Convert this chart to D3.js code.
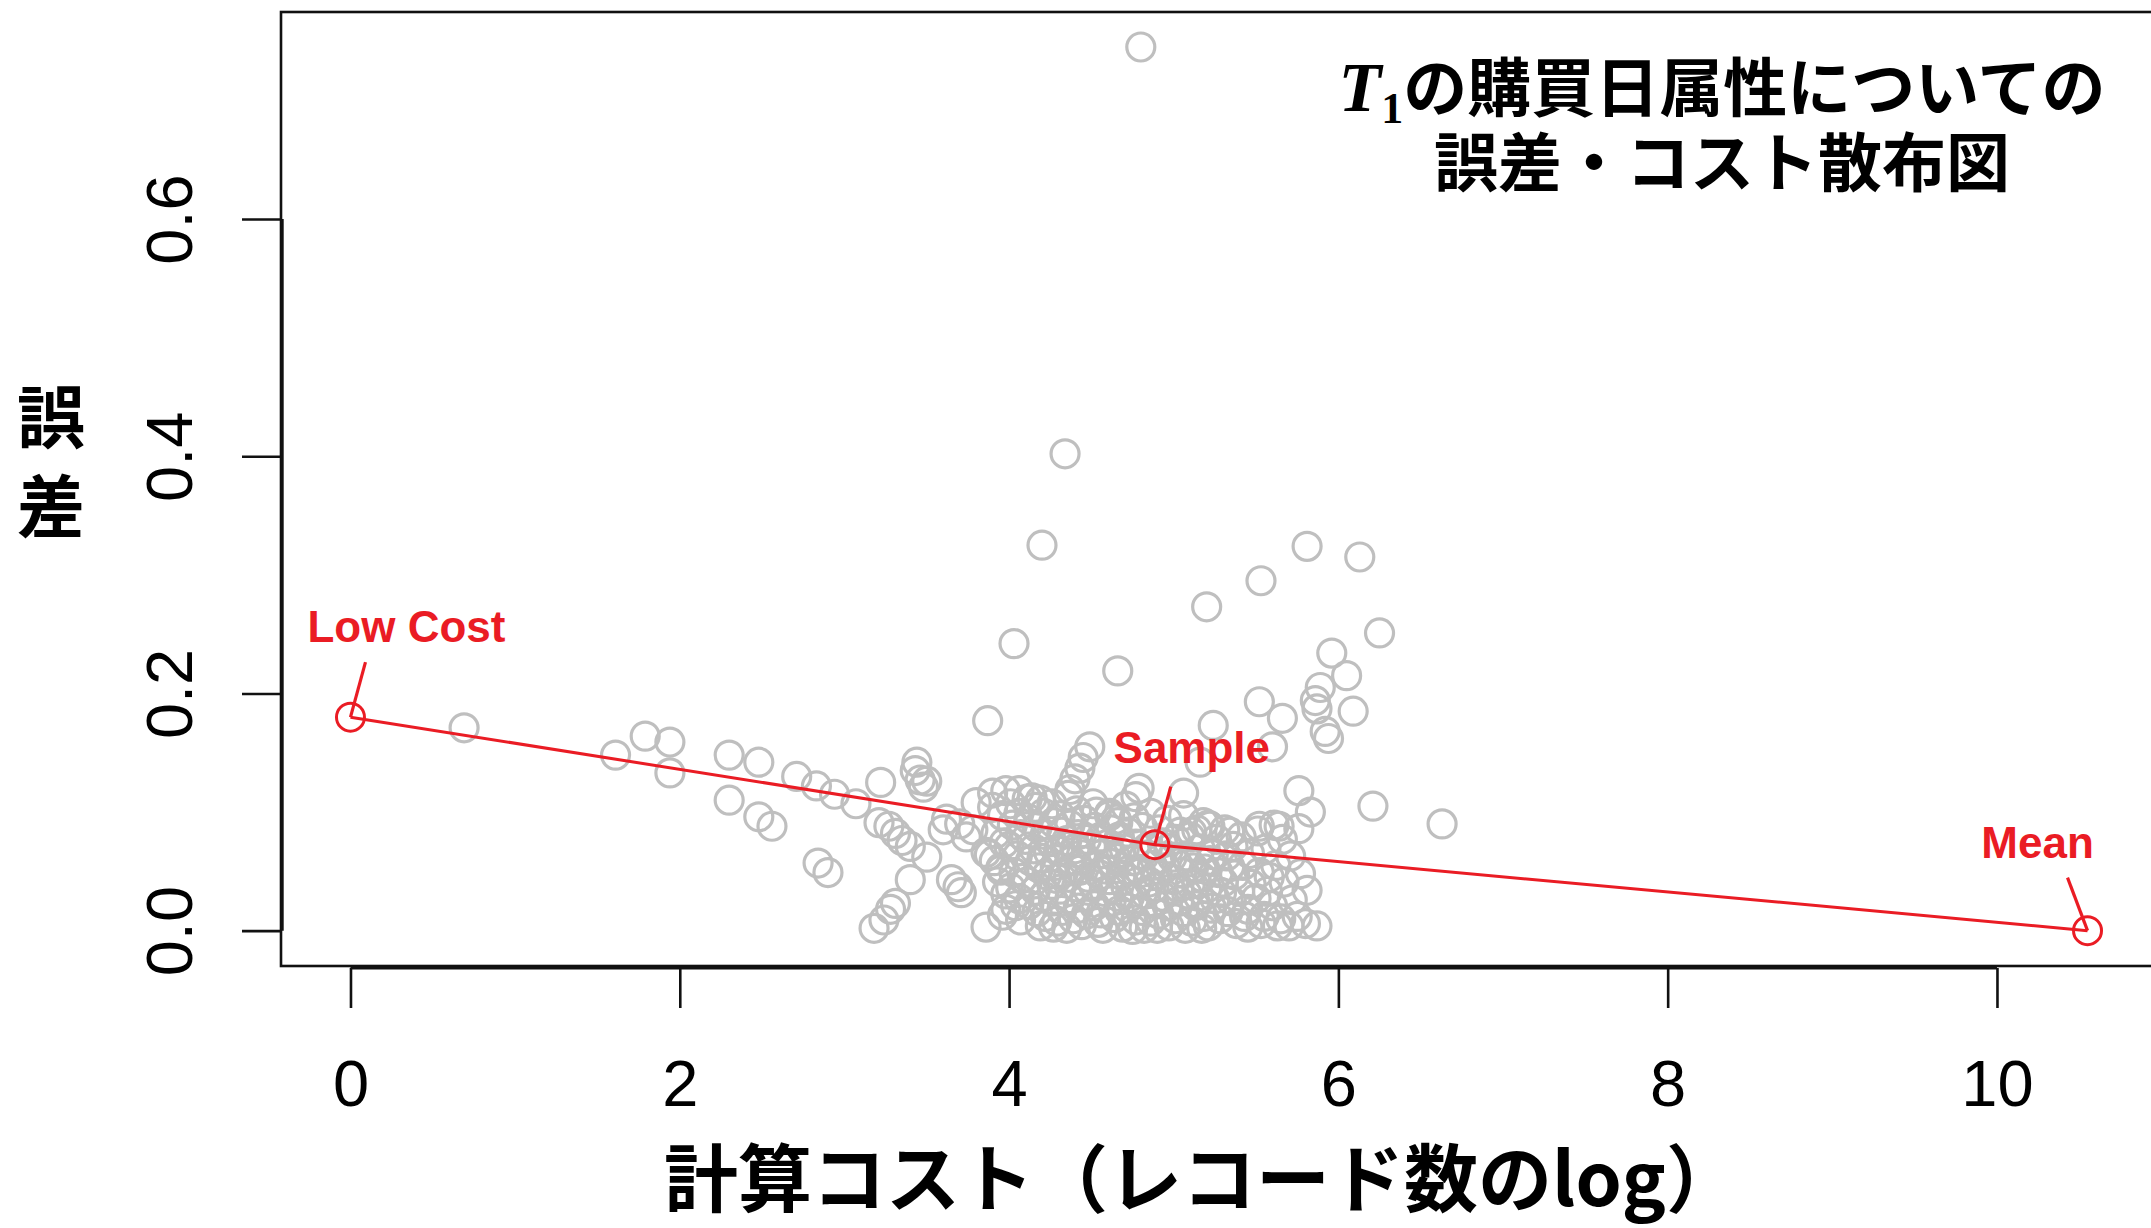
<!DOCTYPE html>
<html>
<head>
<meta charset="utf-8">
<script src="https://cdn.jsdelivr.net/npm/d3@7/dist/d3.min.js"></script>
<style>
  body { margin: 0; background: #fff; }
  svg { display: block; }
  .jp { font-family: "Noto Sans CJK JP", "Noto Sans", sans-serif; font-weight: 700; }
  .num { font-family: "Liberation Sans", Arial, sans-serif; }
</style>
</head>
<body>
<svg id="chart" width="2151" height="1228"></svg>
<script>
// plot limits (R style, data range + 4%)
var xLim = [-0.422, 10.972];
var yLim = [-0.0298, 0.7745];
var xTicks = [0, 2, 4, 6, 8, 10];
var yTicks = [0, 0.2, 0.4, 0.6];

// scattered points above the main cloud
var upperPts = [
  [4.80,0.745],[4.34,0.402],[4.20,0.325],[4.03,0.242],[4.66,0.219],[3.87,0.177],
  [5.20,0.273],[5.53,0.295],[5.81,0.324],[6.13,0.315],[6.25,0.251],[5.96,0.234],
  [6.05,0.215],[5.89,0.205],[5.52,0.193],[5.86,0.194],[5.87,0.187],[6.09,0.185],
  [5.66,0.179],[5.24,0.173],[5.92,0.168],[5.94,0.162],[5.60,0.155],[5.16,0.142],
  [5.76,0.118],[5.83,0.100],[6.21,0.105],[6.63,0.090],[5.06,0.116],
  [4.49,0.155],[4.45,0.146],[4.43,0.137],[4.40,0.128],[4.37,0.119],[4.79,0.120],
  [4.77,0.113],[4.19,0.110],[4.53,0.100],[4.65,0.094],[4.61,0.099],[5.22,0.088],
  [5.18,0.091],[5.04,0.083],[5.10,0.079],[5.14,0.085],[5.52,0.088],[5.64,0.088],
  [5.34,0.083]
];

// left part: low-cost side
var leftPts = [
  [0.69,0.171],[1.61,0.148],[1.79,0.164],[1.94,0.159],[1.94,0.133],[2.30,0.148],
  [2.48,0.142],[2.30,0.110],[2.48,0.096],[2.56,0.088],[2.71,0.130],[2.83,0.122],
  [2.94,0.115],[3.07,0.107],[2.84,0.057],[2.90,0.049],
  [3.18,0.002],[3.24,0.009],[3.28,0.018],[3.31,0.023],[3.22,0.125],[3.44,0.142],
  [3.43,0.135],[3.46,0.127],[3.48,0.121],[3.50,0.126],
  [3.21,0.091],[3.27,0.088],[3.31,0.082],[3.35,0.076],[3.40,0.071],[3.50,0.062],
  [3.40,0.043],[3.60,0.085],[3.65,0.043],[3.69,0.037],[3.71,0.032],
  [3.62,0.094],[3.70,0.090],[3.78,0.085],[3.74,0.079],[3.80,0.108],[3.90,0.116],
  [3.98,0.118],[4.06,0.118],[4.14,0.112],[3.86,0.066],[3.91,0.059],[3.95,0.051],
  [3.86,0.003],[3.98,0.018]
];

// dense cloud near the bottom
var densePts = [
  [3.90,0.104],[3.92,0.082],[3.88,0.064],[3.93,0.041],
  [3.96,0.097],[3.97,0.074],[3.95,0.053],[3.98,0.031],[3.96,0.013],
  [4.01,0.107],[4.02,0.089],[4.00,0.071],[4.03,0.049],[4.01,0.036],[4.04,0.021],
  [4.06,0.099],[4.07,0.081],[4.05,0.063],[4.08,0.044],[4.06,0.027],[4.07,0.009],
  [4.11,0.111],[4.12,0.094],[4.10,0.077],[4.13,0.059],[4.11,0.041],[4.12,0.022],
  [4.16,0.104],[4.17,0.087],[4.15,0.069],[4.18,0.053],[4.16,0.034],[4.17,0.016],[4.19,0.004],
  [4.21,0.099],[4.22,0.081],[4.20,0.061],[4.23,0.047],[4.21,0.029],[4.22,0.012],
  [4.26,0.107],[4.27,0.091],[4.25,0.075],[4.28,0.055],[4.26,0.039],[4.27,0.025],[4.29,0.008],
  [4.31,0.097],[4.32,0.083],[4.30,0.067],[4.33,0.049],[4.31,0.035],[4.32,0.017],
  [4.36,0.114],[4.37,0.089],[4.35,0.076],[4.38,0.059],[4.36,0.045],[4.37,0.027],[4.39,0.010],
  [4.41,0.101],[4.42,0.081],[4.40,0.069],[4.43,0.051],[4.41,0.037],[4.42,0.019],[4.44,0.005],
  [4.46,0.093],[4.47,0.077],[4.45,0.059],[4.48,0.045],[4.46,0.029],[4.47,0.014],
  [4.51,0.107],[4.52,0.087],[4.50,0.071],[4.53,0.054],[4.51,0.039],[4.52,0.021],[4.54,0.007],
  [4.56,0.079],[4.57,0.065],[4.55,0.047],[4.58,0.033],[4.56,0.015],
  [4.61,0.097],[4.62,0.085],[4.60,0.073],[4.63,0.057],[4.61,0.043],[4.62,0.025],[4.64,0.011],
  [4.66,0.091],[4.67,0.079],[4.65,0.061],[4.68,0.047],[4.66,0.029],[4.67,0.017],[4.69,0.003],
  [4.71,0.105],[4.72,0.083],[4.70,0.069],[4.73,0.051],[4.71,0.037],[4.72,0.019],
  [4.76,0.095],[4.77,0.073],[4.75,0.059],[4.78,0.041],[4.76,0.027],[4.77,0.009],
  [4.81,0.087],[4.82,0.063],[4.80,0.049],[4.83,0.031],[4.81,0.017],[4.82,0.002],
  [4.86,0.099],[4.87,0.055],[4.85,0.041],[4.88,0.023],[4.86,0.008],
  [4.91,0.085],[4.92,0.061],[4.90,0.047],[4.93,0.029],[4.91,0.014],
  [4.96,0.093],[4.97,0.069],[4.95,0.053],[4.98,0.035],[4.96,0.021],[4.97,0.004],
  [5.01,0.077],[5.02,0.057],[5.00,0.043],[5.03,0.025],[5.01,0.010],
  [5.06,0.097],[5.07,0.063],[5.05,0.049],[5.08,0.031],[5.06,0.016],[5.07,0.002],
  [5.11,0.083],[5.12,0.053],[5.10,0.039],[5.13,0.021],[5.11,0.008],
  [5.16,0.069],[5.17,0.045],[5.15,0.029],[5.18,0.012],
  [5.21,0.089],[5.22,0.059],[5.20,0.036],[5.23,0.019],[5.21,0.004],
  [5.26,0.077],[5.27,0.049],[5.25,0.027],[5.28,0.010],
  [5.31,0.085],[5.32,0.063],[5.30,0.041],[5.33,0.016],
  [5.36,0.071],[5.37,0.047],[5.35,0.025],[5.38,0.006],
  [5.41,0.079],[5.42,0.055],[5.40,0.033],[5.43,0.012],
  [5.46,0.065],[5.47,0.039],[5.45,0.018],
  [5.51,0.084],[5.52,0.049],[5.50,0.027],[5.53,0.006],
  [5.56,0.069],[5.57,0.033],[5.55,0.012],
  [5.61,0.089],[5.62,0.055],[5.60,0.021],[5.63,0.004],
  [5.66,0.077],[5.67,0.041],[5.65,0.010],
  [5.71,0.063],[5.72,0.026],[5.70,0.004],
  [5.76,0.086],[5.77,0.048],[5.75,0.012],
  [5.81,0.034],[5.80,0.006],[5.87,0.004]
];

// second layer in the thickest part of the cloud
var corePts = [
  [4.24,0.066],[4.29,0.044],[4.34,0.071],[4.39,0.052],[4.44,0.064],[4.48,0.034],
  [4.58,0.052],[4.63,0.036],[4.68,0.066],[4.73,0.028],[4.78,0.052],[4.84,0.070],
  [4.88,0.036],[4.93,0.074],[4.99,0.062],[5.03,0.036],[5.09,0.058],[5.14,0.040],
  [5.19,0.052],[5.24,0.064],[5.29,0.032],[5.34,0.054],[4.27,0.003],[4.57,0.002],
  [4.90,0.002],[5.17,0.002],[5.45,0.003],[5.58,0.045],[4.35,0.002],[4.75,0.001]
];

// highlighted strategies (red)
var refNames = ["Low Cost", "Sample", "Mean"];
var refX = [0, 4.885, 10.55];
var refY = [0.180, 0.0725, 0.0];

var svg = d3.select("#chart"),
    width = +svg.attr("width"),
    height = +svg.attr("height");

var x = d3.scaleLinear().domain(xLim).range([281, 2157]);
var y = d3.scaleLinear().domain(yLim).range([966, 12]);

var red = "#ea1c24";

svg.append("rect")
  .attr("width", width).attr("height", height).attr("fill", "#fff");

// gray points
var allPts = upperPts.concat(leftPts, densePts, corePts);
svg.append("g")
  .selectAll("circle")
  .data(allPts)
  .enter().append("circle")
    .attr("cx", function(d) { return x(d[0]); })
    .attr("cy", function(d) { return y(d[1]); })
    .attr("r", 14)
    .attr("fill", "none")
    .attr("stroke", "#bfbfbf")
    .attr("stroke-width", 3.2);

// plot box
svg.append("rect")
  .attr("x", 281).attr("y", 12)
  .attr("width", 2157 - 281).attr("height", 966 - 12)
  .attr("fill", "none").attr("stroke", "#111").attr("stroke-width", 2.6);

// x axis (R style: line only between first and last tick)
var xAxis = svg.append("g")
  .attr("class", "num")
  .attr("transform", "translate(0,968)")
  .call(d3.axisBottom(x).tickValues(xTicks).tickSize(40).tickPadding(52)
        .tickFormat(d3.format("d")));
xAxis.select(".domain").remove();
xAxis.append("line")
  .attr("x1", x(xTicks[0])).attr("x2", x(xTicks[xTicks.length - 1]))
  .attr("stroke", "#111").attr("stroke-width", 3);
xAxis.selectAll(".tick line").attr("stroke", "#111").attr("stroke-width", 2.6);
xAxis.selectAll(".tick text")
  .attr("fill", "#000").style("font-size", "65px")
  .style("font-family", "'Liberation Sans', Arial, sans-serif");

// y axis, labels rotated like R
var yAxis = svg.append("g")
  .attr("class", "num")
  .attr("transform", "translate(282,0)")
  .call(d3.axisLeft(y).tickValues(yTicks).tickSize(40).tickFormat(d3.format(".1f")));
yAxis.select(".domain").remove();
yAxis.append("line")
  .attr("y1", y(yTicks[0])).attr("y2", y(yTicks[yTicks.length - 1]))
  .attr("stroke", "#111").attr("stroke-width", 3.4);
yAxis.selectAll(".tick line").attr("stroke", "#111").attr("stroke-width", 2.6);
yAxis.selectAll(".tick text")
  .attr("x", 0).attr("dy", 0)
  .attr("text-anchor", "middle")
  .attr("transform", "translate(-90,0) rotate(-90)")
  .attr("fill", "#000").style("font-size", "65px")
  .style("font-family", "'Liberation Sans', Arial, sans-serif");

// red path through the three strategies
var refPts = refX.map(function(v, i) { return { name: refNames[i], x: v, y: refY[i] }; });
svg.append("path")
  .datum(refPts)
  .attr("fill", "none")
  .attr("stroke", red)
  .attr("stroke-width", 3)
  .attr("d", d3.line().x(function(d) { return x(d.x); }).y(function(d) { return y(d.y); }));

var ref = svg.append("g").selectAll("g")
  .data(refPts)
  .enter().append("g")
    .attr("transform", function(d) { return "translate(" + x(d.x) + "," + y(d.y) + ")"; });

ref.append("circle")
  .attr("r", 14).attr("fill", "none").attr("stroke", red).attr("stroke-width", 3);

// label offsets in pixels: [pointer end dx, dy, text dx, baseline dy]
var labelOff = {
  "Low Cost": [15, -55, 56, -75],
  "Sample":   [16, -58, 37, -82],
  "Mean":     [-20, -53, -50, -73]
};

ref.append("line")
  .attr("x1", 0).attr("y1", 0)
  .attr("x2", function(d) { return labelOff[d.name][0]; })
  .attr("y2", function(d) { return labelOff[d.name][1]; })
  .attr("stroke", red).attr("stroke-width", 3.2);

ref.append("text")
  .attr("x", function(d) { return labelOff[d.name][2]; })
  .attr("y", function(d) { return labelOff[d.name][3]; })
  .attr("text-anchor", "middle")
  .attr("fill", red)
  .style("font-family", "'Liberation Sans', Arial, sans-serif")
  .style("font-weight", "700")
  .style("font-size", "44px")
  .text(function(d) { return d.name; });

// axis titles
svg.append("text")
  .attr("class", "jp")
  .attr("x", 1202).attr("y", 1206)
  .attr("text-anchor", "middle")
  .style("font-size", "74px")
  .text("計算コスト（レコード数のlog）");

svg.append("text")
  .attr("class", "jp")
  .attr("x", 51).attr("y", 443)
  .attr("text-anchor", "middle")
  .style("font-size", "68px")
  .text("誤");
svg.append("text")
  .attr("class", "jp")
  .attr("x", 51).attr("y", 532)
  .attr("text-anchor", "middle")
  .style("font-size", "68px")
  .text("差");

// title, top right
var title = svg.append("text")
  .attr("class", "jp")
  .attr("x", 1722).attr("y", 111)
  .attr("text-anchor", "middle")
  .style("font-size", "64px");
title.append("tspan")
  .style("font-family", "'Liberation Serif', 'DejaVu Serif', serif")
  .style("font-style", "italic")
  .style("font-size", "70px")
  .text("T");
title.append("tspan")
  .style("font-family", "'Liberation Serif', 'DejaVu Serif', serif")
  .style("font-size", "44px")
  .attr("dy", 12)
  .text("1");
title.append("tspan")
  .attr("dy", -12)
  .text("の購買日属性についての");

svg.append("text")
  .attr("class", "jp")
  .attr("x", 1722).attr("y", 186)
  .attr("text-anchor", "middle")
  .style("font-size", "64px")
  .text("誤差・コスト散布図");
</script>
</body>
</html>
